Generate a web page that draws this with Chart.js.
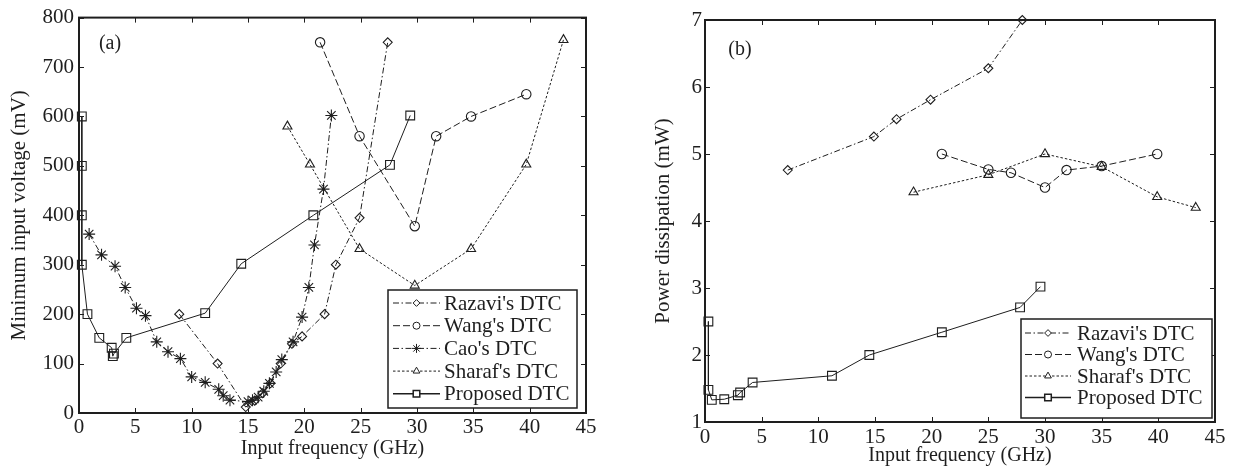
<!DOCTYPE html>
<html><head><meta charset="utf-8">
<script src="https://cdn.jsdelivr.net/npm/chart.js@4/dist/chart.umd.min.js"></script>
<style>
html,body{margin:0;padding:0;background:#fff;width:1239px;height:468px;overflow:hidden}
#ca{position:absolute;left:0;top:0}
#cb{position:absolute;left:620px;top:0}
</style></head>
<body>
<canvas id="ca" width="600" height="468"></canvas>
<canvas id="cb" width="619" height="468"></canvas>
<script>
// ---------- data: panel (a) minimum input voltage (mV) ----------
const xTicks = [0, 5, 10, 15, 20, 25, 30, 35, 40, 45];
const voltTicks = [0, 100, 200, 300, 400, 500, 600, 700, 800];
const powerTicks = [1, 2, 3, 4, 5, 6, 7];

const razaviFreqA = [8.9, 12.3, 14.8, 15.6, 16.3, 17.0, 17.9, 18.9, 19.8, 21.8, 22.8, 24.9, 27.4];
const razaviVoltA = [200, 100, 12, 25, 40, 60, 100, 140, 155, 200, 300, 395, 750];

const wangFreqA = [21.4, 24.9, 29.8, 31.7, 34.8, 39.7];
const wangVoltA = [750, 560, 378, 560, 600, 645];

const caoFreqA = [0.9, 2.0, 3.2, 4.1, 5.1, 5.9, 6.9, 7.9, 9.0, 10.0, 11.2, 12.4, 12.8, 13.4, 15.0, 15.4, 15.9, 16.4, 16.9, 17.5, 18.0, 19.0, 19.8, 20.4, 20.9, 21.7, 22.4];
const caoVoltA = [362, 320, 297, 254, 212, 197, 144, 124, 110, 73, 62, 48, 35, 26, 23, 26, 32, 44, 60, 83, 108, 144, 194, 254, 340, 453, 602];

const sharafFreqA = [18.5, 20.5, 24.9, 29.8, 34.8, 39.7, 43.0];
const sharafVoltA = [580, 503, 332, 258, 332, 503, 755];

const propFreqA = [0.25, 0.25, 0.25, 0.25, 0.75, 1.8, 2.9, 3.0, 3.1, 4.2, 11.2, 14.4, 20.8, 27.6, 29.4];
const propVoltA = [600, 500, 400, 300, 200, 152, 132, 115, 120, 152, 202, 302, 400, 502, 602];

// ---------- data: panel (b) power dissipation (mW) ----------
const razaviFreqB = [7.3, 14.9, 16.9, 19.9, 25.0, 28.0];
const razaviPowB = [4.76, 5.26, 5.52, 5.81, 6.28, 7.0];

const wangFreqB = [20.9, 25.0, 27.0, 30.0, 31.9, 35.0, 39.9];
const wangPowB = [5.0, 4.77, 4.72, 4.5, 4.76, 4.82, 5.0];

const sharafFreqB = [18.4, 25.0, 30.0, 35.0, 39.9, 43.3];
const sharafPowB = [4.43, 4.69, 5.0, 4.81, 4.36, 4.2];

const propFreqB = [0.3, 0.3, 0.6, 1.7, 2.9, 3.1, 4.2, 11.2, 14.5, 20.9, 27.8, 29.6];
const propPowB = [2.5, 1.48, 1.33, 1.34, 1.40, 1.44, 1.59, 1.69, 2.0, 2.34, 2.71, 3.02];

const seriesNames = ["Razavi's DTC", "Wang's DTC", "Cao's DTC", "Sharaf's DTC", "Proposed DTC"];

// ---------- styling ----------
const FONT = "'Liberation Serif', 'Times New Roman', serif";
const INK = '#1e1e1e';
const styles = {
  "Razavi's DTC": {pointStyle: 'rectRot', radius: 4.5, dash: [6, 2.5, 1.5, 2.5]},
  "Wang's DTC":   {pointStyle: 'circle', radius: 4.7, dash: [7, 3]},
  "Cao's DTC":    {pointStyle: 'star', radius: 6, dash: [6, 2.5, 1.5, 2.5]},
  "Sharaf's DTC": {pointStyle: 'triangle', radius: 5.2, dash: [2.5, 2]},
  "Proposed DTC": {pointStyle: 'rect', radius: 6.2, dash: []}
};

function pairs(xs, ys) { return xs.map((x, i) => ({x: x, y: ys[i]})); }

function makeDataset(name, xs, ys) {
  const s = styles[name];
  return {
    label: name,
    data: pairs(xs, ys),
    borderColor: INK,
    borderWidth: 1,
    borderDash: s.dash,
    pointStyle: s.pointStyle,
    pointRadius: s.radius,
    pointBorderColor: INK,
    pointBackgroundColor: 'rgba(255,255,255,0)',
    pointBorderWidth: 1.1,
    tension: 0,
    fill: false,
    clip: false
  };
}

const framePlugin = {
  id: 'frame',
  afterDatasetsDraw(chart) {
    const ctx = chart.ctx;
    const a = chart.chartArea;
    const o = chart.options.plugins.frame;
    ctx.save();
    ctx.strokeStyle = INK;
    ctx.setLineDash([]);
    // ticks inward
    ctx.lineWidth = 1;
    const xs = chart.scales.x, ys = chart.scales.y;
    xs.ticks.forEach(t => {
      const px = Math.round(xs.getPixelForValue(t.value)) + 0.5;
      ctx.beginPath();
      ctx.moveTo(px, a.bottom); ctx.lineTo(px, a.bottom - 5);
      ctx.moveTo(px, a.top); ctx.lineTo(px, a.top + 5);
      ctx.stroke();
    });
    ys.ticks.forEach(t => {
      const py = Math.round(ys.getPixelForValue(t.value)) + 0.5;
      ctx.beginPath();
      ctx.moveTo(a.left, py); ctx.lineTo(a.left + 5, py);
      ctx.moveTo(a.right, py); ctx.lineTo(a.right - 5, py);
      ctx.stroke();
    });
    // frame
    ctx.lineWidth = 2;
    ctx.strokeRect(a.left, a.top, a.right - a.left, a.bottom - a.top);
    // panel label
    ctx.fillStyle = INK;
    ctx.font = '20px ' + FONT;
    ctx.textAlign = 'center';
    ctx.textBaseline = 'middle';
    ctx.fillText(o.panel, a.left + o.panelDx, a.top + o.panelDy);
    // legend
    const L = o.legend;
    const bx = a.right - L.right - L.w, by = a.bottom - L.bottom - L.h;
    ctx.fillStyle = '#fff';
    ctx.fillRect(bx, by, L.w, L.h);
    ctx.lineWidth = 1.5;
    ctx.strokeRect(bx, by, L.w, L.h);
    ctx.font = L.fontSize + 'px ' + FONT;
    ctx.textAlign = 'left';
    chart.data.datasets.forEach((ds, i) => {
      const cy = by + L.firstRow + i * L.rowH;
      ctx.save();
      ctx.strokeStyle = INK;
      ctx.lineWidth = ds.borderDash.length ? 1 : 1.5;
      ctx.setLineDash(ds.borderDash);
      ctx.beginPath();
      ctx.moveTo(bx + L.lineX0, cy);
      ctx.lineTo(bx + L.lineX1, cy);
      ctx.stroke();
      ctx.setLineDash([]);
      ctx.fillStyle = '#fff';
      Chart.helpers.drawPoint(ctx, {pointStyle: ds.pointStyle, radius: ds.pointRadius * 0.75, rotation: 0, borderWidth: 1}, bx + (L.lineX0 + L.lineX1) / 2, cy);
      ctx.restore();
      ctx.fillStyle = INK;
      ctx.fillText(ds.label, bx + L.textX, cy + 1);
    });
    ctx.restore();
  }
};

function makeChart(id, datasets, cfg) {
  return new Chart(document.getElementById(id), {
    type: 'line',
    data: {datasets: datasets},
    plugins: [framePlugin],
    options: {
      responsive: false,
      animation: false,
      devicePixelRatio: 1,
      layout: {padding: {left: 0, top: cfg.padTop, right: cfg.padRight, bottom: 0}},
      plugins: {
        legend: {display: false},
        tooltip: {enabled: false},
        frame: cfg.frame
      },
      scales: {
        x: {
          type: 'linear', min: 0, max: 45,
          afterBuildTicks: s => { s.ticks = xTicks.map(v => ({value: v})); },
          afterFit: s => { s.height = cfg.xHeight; },
          grid: {display: false, drawTicks: false},
          border: {display: false},
          ticks: {autoSkip: false, maxRotation: 0, padding: cfg.xTickPad, color: INK, font: {family: FONT, size: 21}},
          title: {display: true, text: 'Input frequency (GHz)', color: INK, font: {family: FONT, size: 20}, padding: {top: 0, bottom: cfg.xTitlePad}}
        },
        y: {
          type: 'linear', min: cfg.yMin, max: cfg.yMax,
          afterBuildTicks: s => { s.ticks = cfg.yTicks.map(v => ({value: v})); },
          afterFit: s => { s.width = cfg.yWidth; },
          grid: {display: false, drawTicks: false},
          border: {display: false},
          ticks: {autoSkip: false, padding: cfg.yTickPad, color: INK, font: {family: FONT, size: 21}},
          title: {display: true, text: cfg.yTitle, color: INK, font: {family: FONT, size: 21}, padding: {top: cfg.yTitlePad, bottom: 0}}
        }
      }
    }
  });
}

makeChart('ca', [
  makeDataset(seriesNames[0], razaviFreqA, razaviVoltA),
  makeDataset(seriesNames[1], wangFreqA, wangVoltA),
  makeDataset(seriesNames[2], caoFreqA, caoVoltA),
  makeDataset(seriesNames[3], sharafFreqA, sharafVoltA),
  makeDataset(seriesNames[4], propFreqA, propVoltA)
], {
  padTop: 16, padRight: 14, xHeight: 55, yWidth: 79,
  xTickPad: 2, yTickPad: 5, xTitlePad: 7, yTitlePad: 7,
  yMin: 0, yMax: 800, yTicks: voltTicks, yTitle: 'Minimum input voltage (mV)',
  frame: {panel: '(a)', panelDx: 31, panelDy: 26,
    legend: {right: 9, bottom: 5, w: 189, h: 118, firstRow: 13, rowH: 22.7, lineX0: 5, lineX1: 52, textX: 56, fontSize: 21}}
});

makeChart('cb', [
  makeDataset(seriesNames[0], razaviFreqB, razaviPowB),
  makeDataset(seriesNames[1], wangFreqB, wangPowB),
  makeDataset(seriesNames[3], sharafFreqB, sharafPowB),
  makeDataset(seriesNames[4], propFreqB, propPowB)
], {
  padTop: 20, padRight: 24, xHeight: 46, yWidth: 85,
  xTickPad: 3, yTickPad: 3, xTitlePad: 0, yTitlePad: 31,
  yMin: 1, yMax: 7, yTicks: powerTicks, yTitle: 'Power dissipation (mW)',
  frame: {panel: '(b)', panelDx: 35, panelDy: 30,
    legend: {right: 3, bottom: 4, w: 191, h: 99, firstRow: 14, rowH: 21.5, lineX0: 4, lineX1: 50, textX: 56, fontSize: 21}}
});
</script>
</body></html>
